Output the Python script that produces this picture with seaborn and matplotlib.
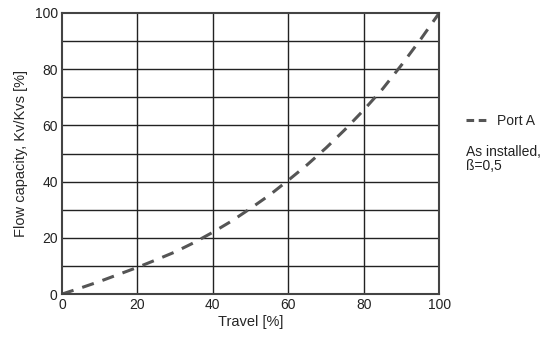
import numpy as np
import pandas as pd
import seaborn as sns
import matplotlib.pyplot as plt
from matplotlib.lines import Line2D

# travel [%] vs flow capacity Kv/Kvs [%]
travel = [0, 5, 10, 15, 20, 25, 30, 35, 40, 45, 50, 55, 60, 65, 70, 75, 80, 85, 90, 95, 100]
flow = [0, 2.2, 4.5, 7, 9.5, 12.2, 15, 18.3, 22, 26, 30.5, 35.2, 40.5, 46, 52, 58.5, 65.5, 73, 81.5, 90.5, 100]
series_label = "Port A"
note = "As installed,\nß=0,5"

df = pd.DataFrame({"travel": travel, "flow": flow})

sns.set_style("white")
plt.rcParams['font.family'] = ['Liberation Sans', 'DejaVu Sans']

fig = plt.figure(figsize=(5.43, 3.4), dpi=100)
ax = fig.add_axes([0.114, 0.135, 0.695, 0.827])

sns.lineplot(data=df, x="travel", y="flow", ax=ax, color="#555555",
             linewidth=2.2, dashes=False, linestyle=(0, (4, 3)))

ax.set_xlim(0, 100)
ax.set_ylim(0, 100)
ax.set_xticks([0, 20, 40, 60, 80, 100])
ax.set_yticks([0, 20, 40, 60, 80, 100])

# grid: verticals every 20, horizontals every 10
for x in [20, 40, 60, 80]:
    ax.axvline(x, color="#222222", lw=1.0, zorder=0)
for y in range(10, 100, 10):
    ax.axhline(y, color="#222222", lw=1.0, zorder=0)

for s in ax.spines.values():
    s.set_color("#444444")
    s.set_linewidth(1.5)

ax.tick_params(length=0, pad=3, labelsize=10, colors="#222222")
ax.set_xlabel("Travel [%]", fontsize=10.5, labelpad=2)
ax.set_ylabel("Flow capacity, Kv/Kvs [%]", fontsize=10.5, labelpad=5)

handle = Line2D([0], [0], color="#555555", lw=2.2, linestyle=(0, (2.5, 1.5)))
fig.legend([handle], [series_label], loc="center left", bbox_to_anchor=(0.836, 0.645),
           frameon=False, fontsize=10, handlelength=1.7, handletextpad=0.5)
fig.text(0.858, 0.575, note, fontsize=10, va="top", ha="left", color="#222222",
         linespacing=1.05)

fig.savefig("out.png", dpi=100)
